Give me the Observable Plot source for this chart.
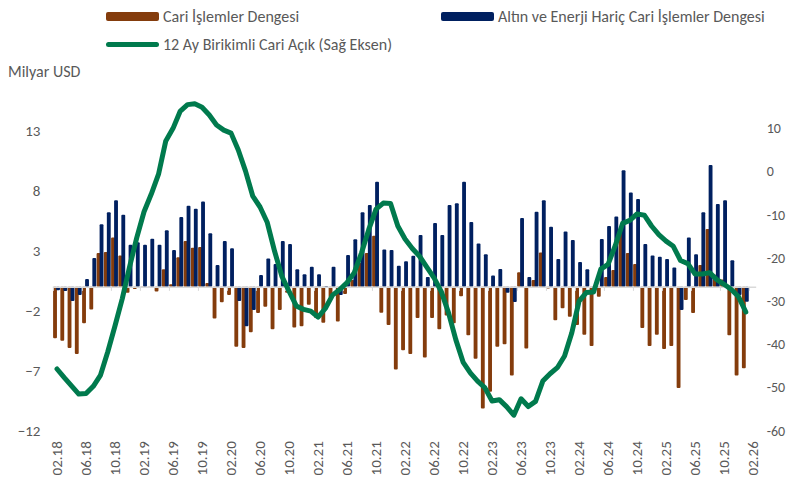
<!DOCTYPE html>
<html>
<head>
<meta charset="utf-8">
<script src="https://cdn.jsdelivr.net/npm/d3@7"></script>
<script src="https://cdn.jsdelivr.net/npm/@observablehq/plot@0.6"></script>
<style>
  html, body { margin: 0; padding: 0; background: #fff; }
  #wrap { position: relative; width: 788px; height: 479px; font-family: Carlito, Calibri, Lato, sans-serif; color: #595959; }
  #legend { position: relative; width: 788px; height: 58px; }
  .sw { position: absolute; }
  .lt { position: absolute; font-size: 16px; line-height: 20px; white-space: nowrap; color: #595959; }
  #unit { position: absolute; left: 8px; top: 62px; font-size: 16px; line-height: 20px; color: #595959; }
  svg { display: block; }
</style>
</head>
<body>
<div id="wrap">
  <div id="legend">
    <div class="sw" style="left:106px;top:12px;width:53px;height:9px;border-radius:2px;background:#843C0C"></div>
    <div class="lt" style="left:163px;top:7px">Cari İşlemler Dengesi</div>
    <div class="sw" style="left:441px;top:12px;width:53px;height:9px;border-radius:2px;background:#002060"></div>
    <div class="lt" style="left:498px;top:7px">Altın ve Enerji Hariç Cari İşlemler Dengesi</div>
    <div class="sw" style="left:106px;top:42px;width:53px;height:5px;border-radius:3px;background:#007A4D"></div>
    <div class="lt" style="left:163px;top:35px">12 Ay Birikimli Cari Açık (Sağ Eksen)</div>
  </div>
  <div id="unit">Milyar USD</div>
  <div id="chart"></div>
</div>
<script>
// Categories: monthly, 02.18 ... 02.26 (last category has no data)
const months = [];
for (let k = 0; k < 97; k++) {
  const mm = ((1 + k) % 12) + 1;
  const yy = 18 + Math.floor((1 + k) / 12);
  months.push(String(mm).padStart(2, "0") + "." + String(yy));
}
const tickLabels = ["02.18","06.18","10.18","02.19","06.19","10.19","02.20","06.20","10.20","02.21","06.21","10.21","02.22","06.22","10.22","02.23","06.23","10.23","02.24","06.24","10.24","02.25","06.25","10.25","02.26"];

// Cari İşlemler Dengesi (billion USD)
const cari = [
  -4.3, -4.5, -5.1, -5.6, -3.05, -1.9, 2.8, 2.9, 4.1, 2.6, -0.5, -0.2,
  -0.1, -0.1, -0.4, 1.45, 0.2, 2.45, 3.8, 3.25, 3.3, 0.3, -2.65, -1.3,
  -0.7, -5.0, -5.1, -3.8, -2.2, -1.67, -3.55, -1.94, -0.5, -3.4, -3.3, -1.5,
  -2.6, -3.0, -0.9, -2.9, -0.6, 0.56, 2.0, 2.8, 4.25, -2.17, -3.2, -6.9,
  -5.3, -5.6, -2.6, -5.9, -2.6, -3.55, -2.4, -3.05, -0.8, -4.05, -6.0, -10.15,
  -8.75, -5.0, -4.8, -7.4, 1.2, -5.15, 0.56, 2.85, -0.15, -2.8, -1.8, -2.5,
  -3.2, -4.0, -4.95, -0.83, 0.8, 1.4, 4.65, 2.8, 1.9, -3.45, -4.95, -4.0,
  -5.2, -4.95, -8.45, -1.1, -2.2, 1.8, 4.8, 1.0, 0.6, -4.05, -7.4, -6.8
];
// Altın ve Enerji Hariç Cari İşlemler Dengesi (billion USD)
const haric = [
  -0.3, -0.35, -1.2, -0.7, 0.65, 2.4, 5.2, 6.2, 7.2, 6.0, 3.5, 3.7,
  3.5, 4.0, 3.5, 4.7, 3.05, 5.8, 6.75, 6.5, 7.1, 4.45, 1.8, 3.8,
  3.2, -1.2, -3.3, -1.95, 0.97, 2.36, 1.9, 3.8, 3.56, 1.45, 1.03, 1.67,
  1.03, 0.05, 1.67, -0.7, 2.64, 3.95, 6.2, 6.8, 8.75, 3.1, 3.06, 1.75,
  2.12, 2.58, 4.3, 0.8, 5.3, 4.3, 6.8, 6.95, 8.75, 5.4, 3.6, 2.7,
  0.93, 1.47, -0.5, -1.28, 5.72, 0.8, 6.25, 7.2, 5.0, 2.3, 4.6, 3.9,
  2.05, 1.45, -0.1, 3.97, 5.05, 5.85, 9.7, 7.85, 7.3, 3.55, 2.6, 2.5,
  2.3, 1.6, -1.95, 4.1, 2.7, 6.2, 10.15, 6.9, 7.2, 2.2, -0.7, -1.25
];
// 12 Ay Birikimli Cari Açık (right axis, billion USD)
const birikimli = [
  -45.6, -47.6, -49.5, -51.4, -51.3, -49.6, -47.0, -41.6, -35.6, -29.3, -22.0, -15.2,
  -9.2, -5.1, -0.5, 7.2, 10.1, 14.1, 15.6, 15.8, 15.0, 13.2, 10.9, 9.7,
  9.0, 5.1, 0.2, -5.6, -8.1, -11.7, -18.3, -24.1, -27.6, -31.0, -31.8, -32.2,
  -33.6, -31.6, -28.5, -27.2, -25.6, -23.3, -18.7, -13.3, -8.6, -7.2, -7.3, -12.5,
  -15.5, -17.7, -19.5, -22.0, -24.5, -27.7, -32.6, -38.8, -44.0, -46.5, -48.4, -49.9,
  -53.0, -52.7, -54.3, -56.3, -52.5, -54.3, -53.1, -48.4, -46.7, -45.3, -42.6, -37.2,
  -29.9, -27.9, -27.8, -22.5, -21.4, -17.0, -11.9, -11.2, -9.7, -10.0, -12.5, -14.5,
  -16.0, -17.2, -20.5, -21.2, -23.6, -23.6, -23.3, -24.9, -26.0, -27.2, -28.9, -32.4
];

const leftTicks = [-12, -7, -2, 3, 8, 13];
const rightTicks = [-60, -50, -40, -30, -20, -10, 0, 10];
const leftDomain = [-12, 15];
const rightDomain = [-60, 15];

const toLeft = v => leftDomain[0] + (v - rightDomain[0]) * (leftDomain[1] - leftDomain[0]) / (rightDomain[1] - rightDomain[0]);
const fromLeft = v => rightDomain[0] + (v - leftDomain[0]) * (rightDomain[1] - rightDomain[0]) / (leftDomain[1] - leftDomain[0]);

const rows = months.map((m, i) => ({m, cari: cari[i], haric: haric[i], line: birikimli[i]}));
const withData = rows.filter(d => d.cari !== undefined);
const tickRows = rows.filter(d => tickLabels.includes(d.m));

const chart = Plot.plot({
  width: 788,
  height: 421,
  marginTop: 48.7,
  marginBottom: 48.3,
  marginLeft: 52.9,
  marginRight: 31.8,
  style: {fontFamily: "Carlito, Calibri, Lato, sans-serif", color: "#595959", background: "#fff", overflow: "visible"},
  x: {type: "band", domain: months, paddingInner: 0, paddingOuter: 0, round: false},
  y: {domain: leftDomain},
  marks: [
    Plot.barY(withData, {x: "m", y: "cari", fill: "#843C0C", insetLeft: 1.7, insetRight: 1.7, dx: -1.5, rx: 1}),
    Plot.barY(withData, {x: "m", y: "haric", fill: "#002060", insetLeft: 1.7, insetRight: 1.7, dx: 1.5, rx: 1}),
    Plot.ruleY([0], {stroke: "#D9D9D9", strokeWidth: 1.5}),
    Plot.ruleX(tickRows, {x: "m", y1: 0, y2: -0.35, dx: -3.625, stroke: "#D9D9D9", strokeWidth: 1}),
    Plot.line(withData, {x: "m", y: d => toLeft(d.line), stroke: "#007A4D", strokeWidth: 5, strokeLinejoin: "round", strokeLinecap: "round"}),
    Plot.axisY({anchor: "left", ticks: leftTicks, tickSize: 0, tickPadding: 13, label: null, fontSize: 15, color: "#595959"}),
    Plot.axisY({anchor: "right", ticks: rightTicks.map(toLeft), tickFormat: d => String(Math.round(fromLeft(d))), tickSize: 0, tickPadding: 10, label: null, fontSize: 14, color: "#595959"}),
    Plot.axisX({anchor: "bottom", ticks: tickLabels, tickRotate: -90, tickSize: 0, tickPadding: 10, label: null, fontSize: 15, color: "#595959"})
  ]
});
document.getElementById("chart").appendChild(chart);
</script>
</body>
</html>
